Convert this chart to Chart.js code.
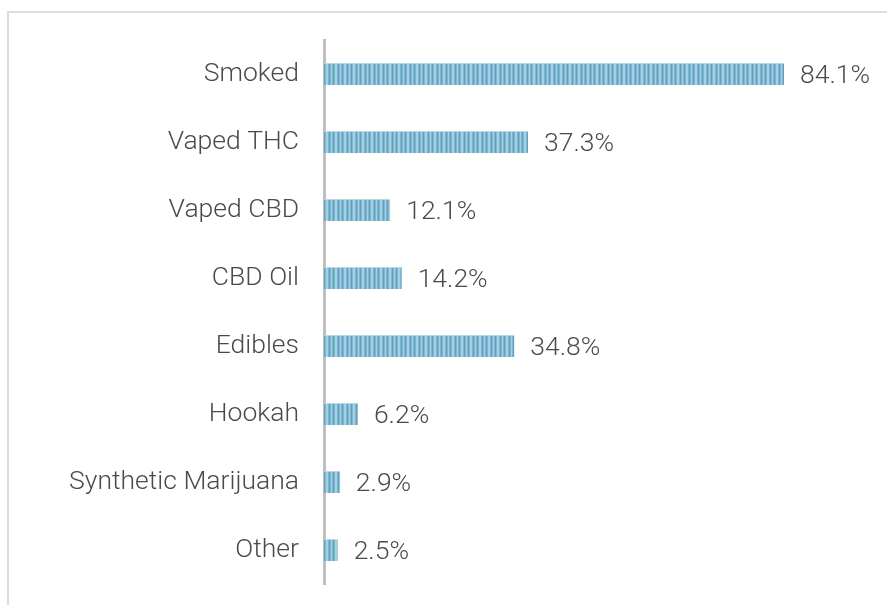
<!DOCTYPE html>
<html>
<head>
<meta charset="utf-8">
<script src="https://cdn.jsdelivr.net/npm/chart.js@4/dist/chart.umd.min.js"></script>
<style>
  body { margin: 0; background: #fff; overflow: hidden; }
  #frame { position: absolute; left: 7px; top: 11px; width: 950px; height: 700px; border: 2px solid #dedede; }
  #bar-chart { position: absolute; left: 0; top: 0; }
</style>
</head>
<body>
<div id="frame"></div>
<canvas id="bar-chart" width="887" height="605"></canvas>
<script>
// categories and values (percent of respondents)
const categories = ['Smoked', 'Vaped THC', 'Vaped CBD', 'CBD Oil', 'Edibles', 'Hookah', 'Synthetic Marijuana', 'Other']
const values = [84.1, 37.3, 12.1, 14.2, 34.8, 6.2, 2.9, 2.5]

// striped fill for the bars (two stripes per 9px tile)
function stripes() {
  const c = document.createElement('canvas')
  c.width = 9; c.height = 1
  const g = c.getContext('2d')
  const cols = ['#5fa2c2', '#7fb6d0', '#a6cfe2', '#a6cfe2', '#7fb6d0', '#5fa2c2', '#7fb6d0', '#a6cfe2', '#7fb6d0']
  cols.forEach((col, i) => { g.fillStyle = col; g.fillRect(i, 0, 1, 1) })
  return document.createElement('canvas').getContext('2d').createPattern(c, 'repeat')
}

// value labels at the end of each bar
const valueLabels = {
  id: 'valueLabels',
  afterDatasetsDraw(chart) {
    const ctx = chart.ctx
    const meta = chart.getDatasetMeta(0)
    ctx.save()
    ctx.font = '300 26.5px Roboto'
    ctx.fillStyle = '#4a4a4a'
    ctx.textBaseline = 'middle'
    meta.data.forEach((bar, i) => {
      ctx.fillText(values[i].toFixed(1) + '%', bar.x + 16, bar.y + 2)
    })
    ctx.restore()
  }
}

const chart = new Chart(document.querySelector('#bar-chart'), {
  type: 'bar',
  data: {
    labels: categories,
    datasets: [{
      data: values,
      backgroundColor: stripes(),
      borderColor: '#c9e1ed',
      borderWidth: { top: 1, right: 0, bottom: 0, left: 0 },
      borderSkipped: false,
      barThickness: 22
    }]
  },
  options: {
    indexAxis: 'y',
    responsive: false,
    animation: false,
    layout: { padding: { top: 40, bottom: 21, right: 16, left: 0 } },
    plugins: { legend: { display: false }, tooltip: { enabled: false } },
    scales: {
      x: { display: false, min: 0, max: 100 },
      y: {
        grid: { display: false },
        border: { color: '#bfbfbf', width: 3 },
        afterFit: (s) => { s.width = 324; s.paddingTop = 0; s.paddingBottom = 0 },
        ticks: {
          color: '#4a4a4a',
          padding: 17,
          font: { family: 'Roboto', size: 26.5, weight: '300' }
        }
      }
    }
  },
  plugins: [valueLabels]
})
</script>
</body>
</html>
